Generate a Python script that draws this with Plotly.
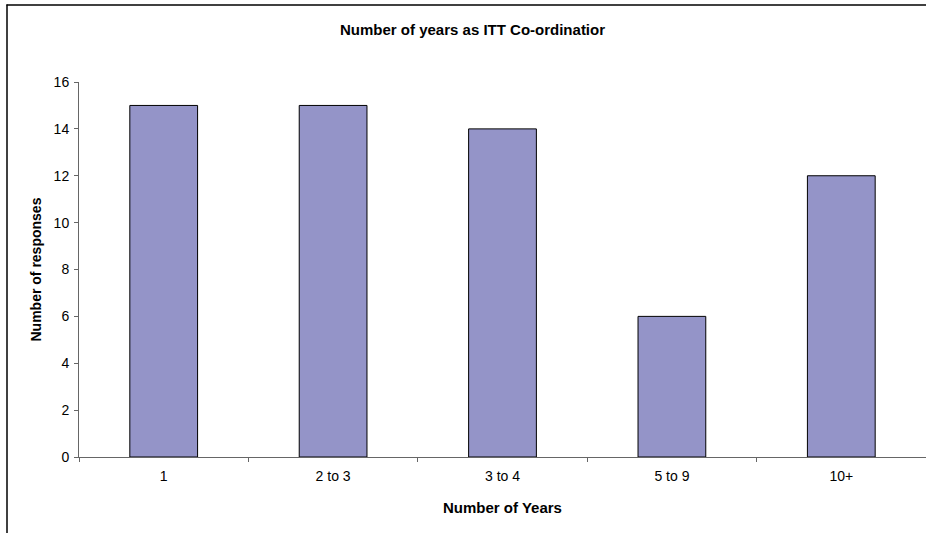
import plotly.graph_objects as go

categories = ["1", "2 to 3", "3 to 4", "5 to 9", "10+"]
responses = [15, 15, 14, 6, 12]
y_ticks = [0, 2, 4, 6, 8, 10, 12, 14, 16]

W, H = 926, 533
L, R, T, B = 79, 0, 82, 76
pw = W - L - R
ph = H - T - B

def px_x(x):
    return (x - L) / pw

def px_y(y):
    return (H - B - y) / ph

font = "Arial, 'Liberation Sans', sans-serif"

fig = go.Figure(go.Bar(
    x=categories, y=responses,
    marker=dict(color="#9494c8", line=dict(color="#000000", width=1)),
    width=0.4,
))

fig.update_layout(
    width=W, height=H, autosize=False,
    margin=dict(l=L, r=R, t=T, b=B),
    paper_bgcolor="white", plot_bgcolor="white",
    showlegend=False,
    font=dict(family=font, size=14, color="#000000"),
    xaxis=dict(
        showline=True, linecolor="#666666", linewidth=1,
        ticks="outside", ticklen=4, tickcolor="#666666",
        tickson="boundaries", showgrid=False, zeroline=False,
        tickfont=dict(size=14), ticklabelstandoff=6,
    ),
    yaxis=dict(
        range=[0, 16], tickvals=y_ticks,
        showline=True, linecolor="#666666", linewidth=1,
        ticks="outside", ticklen=4, tickcolor="#666666",
        showgrid=False, zeroline=False,
        tickfont=dict(size=14), ticklabelstandoff=2,
    ),
    annotations=[
        dict(text="<b>Number of years as ITT Co-ordinatior</b>", xref="paper", yref="paper",
             x=px_x(472), y=px_y(29), xanchor="center", yanchor="middle",
             showarrow=False, font=dict(size=15)),
        dict(text="<b>Number of responses</b>", xref="paper", yref="paper",
             x=px_x(35), y=0.5, xanchor="center", yanchor="middle", textangle=-90,
             showarrow=False, font=dict(size=14)),
        dict(text="<b>Number of Years</b>", xref="paper", yref="paper",
             x=0.5, y=px_y(507), xanchor="center", yanchor="middle",
             showarrow=False, font=dict(size=15)),
    ],
    shapes=[
        dict(type="line", xref="paper", yref="paper",
             x0=px_x(7), x1=px_x(7), y0=px_y(4.5), y1=px_y(540),
             line=dict(color="#000000", width=1.5)),
        dict(type="line", xref="paper", yref="paper",
             x0=px_x(6.5), x1=px_x(940), y0=px_y(5), y1=px_y(5),
             line=dict(color="#000000", width=1.5)),
    ],
)

fig.write_html("out.html", config={"displayModeBar": False},
               post_script="document.body.style.margin='0';")
